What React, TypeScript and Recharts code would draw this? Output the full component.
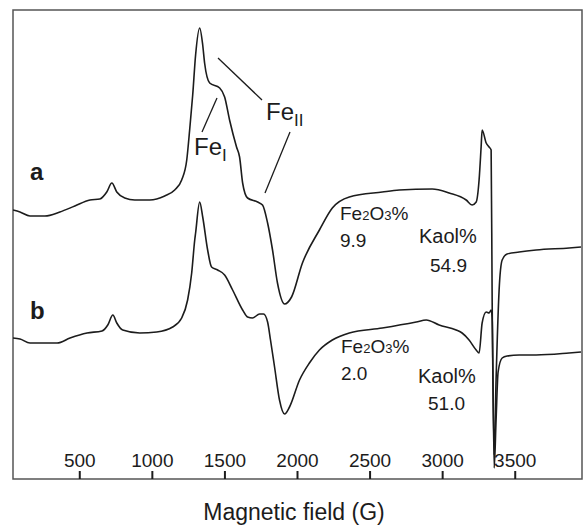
import React from "react";
import { LineChart, Line, XAxis, YAxis, ReferenceArea } from "recharts";

// Magnetic field (G) and signal (arbitrary units)
const fieldA = [
  40, 88, 157, 260, 363, 466, 570, 638, 686, 721, 755, 810, 879, 982, 1085, 1154, 1202, 1237, 1257, 1278,
  1298, 1326, 1347, 1360, 1395, 1464, 1498, 1532, 1580, 1601, 1622, 1656, 1725, 1759, 1794, 1828, 1862,
  1911, 1959, 2034, 2151, 2240, 2357, 2584, 2701, 2928, 3045, 3162, 3203, 3231, 3251, 3265, 3272, 3300,
  3320, 3334, 3341, 3355, 3368, 3389, 3410, 3444, 3527, 3644, 3871, 3953,
];
const signalA = [
  269, 267, 263, 263, 267, 273, 279, 280, 287, 296, 287, 281, 279, 279, 283, 289, 299, 319, 349, 384,
  424, 451, 434, 416, 396, 391, 382, 359, 332, 322, 296, 281, 277, 274, 256, 229, 196,
  175, 182, 216, 249, 271, 282, 287, 289, 290, 286, 279, 274, 277, 299, 332, 349, 336,
  332, 329, 179, 24, 99, 189, 219, 225, 227, 229, 231, 232,
];

const fieldB = [
  40, 88, 157, 344, 433, 550, 653, 693, 728, 755, 796, 913, 1030, 1140, 1202, 1243, 1271, 1292, 1298,
  1326, 1347, 1381, 1408, 1450, 1498, 1553, 1622, 1656, 1690, 1739, 1766, 1794, 1814, 1842, 1876, 1911,
  1945, 2014, 2082, 2151, 2240, 2357, 2584, 2818, 2887, 2976, 3093, 3134, 3182, 3231, 3251, 3272, 3300,
  3320, 3334, 3341, 3355, 3368, 3382, 3410, 3444, 3527, 3644, 3871, 3953,
];
const signalB = [
  141, 140, 136, 136, 141, 146, 148, 154, 164, 156, 149, 146, 147, 152, 161, 179, 206, 239, 246,
  277, 262, 229, 212, 209, 204, 189, 169, 162, 161, 165, 165, 157, 139, 112, 79, 65,
  72, 99, 116, 129, 139, 146, 151, 157, 159, 154, 149, 146, 139, 129, 126, 156, 167,
  166, 169, 161, 11, 59, 107, 121, 123, 124, 124, 126, 127,
];

const fieldTicks = [500, 1000, 1500, 2000, 2500, 3000, 3500];

const dataA = fieldA.map((g, i) => ({ field: g, signal: signalA[i] }));
const dataB = fieldB.map((g, i) => ({ field: g, signal: signalB[i] }));

const FONT = '"Liberation Sans", Arial, Helvetica, sans-serif';
const INK = "#1c1c1c";

// ticks sit inside the frame: mark pointing up, label above it
const FieldTick = (props: any) => {
  const { x, payload } = props;
  const base = 479;
  return (
    <g>
      <line x1={x} x2={x} y1={base} y2={base - 8} stroke={INK} strokeWidth={2} />
      <text x={x} y={base - 12} textAnchor="middle" fontSize={19} fontFamily={FONT} fill={INK}>
        {payload.value}
      </text>
    </g>
  );
};

const Oxide = ({ x, y }: { x: number; y: number }) => (
  <text x={x} y={y} fontSize={19} fontFamily={FONT} fill={INK}>
    Fe<tspan fontSize={13}>2</tspan>O<tspan fontSize={13}>3</tspan>%
  </text>
);

const App: React.FC = () => {
  return (
    <div style={{ position: "fixed", left: 0, top: 0, width: 586, height: 527, background: "#fff" }}>
      <LineChart width={586} height={527} margin={{ top: 10, right: 4, bottom: 28, left: 13 }}>
        <XAxis
          dataKey="field"
          type="number"
          domain={[40, 3960]}
          allowDataOverflow
          ticks={fieldTicks}
          interval={0}
          height={20}
          axisLine={false}
          tickLine={false}
          tick={<FieldTick />}
        />
        <YAxis type="number" domain={[0, 469]} hide allowDataOverflow />
        <ReferenceArea x1={40} x2={3960} y1={0} y2={469} fill="none" stroke="#555" strokeWidth={1.5} />
        <Line
          data={dataA}
          dataKey="signal"
          type="monotone"
          stroke={INK}
          strokeWidth={1.6}
          dot={false}
          isAnimationActive={false}
        />
        <Line
          data={dataB}
          dataKey="signal"
          type="monotone"
          stroke={INK}
          strokeWidth={1.6}
          dot={false}
          isAnimationActive={false}
        />
      </LineChart>
      <svg width={586} height={527} style={{ position: "absolute", left: 0, top: 0, pointerEvents: "none" }}>
        <text x={30} y={180} fontSize={24} fontWeight="bold" fontFamily={FONT} fill={INK}>a</text>
        <text x={30} y={319} fontSize={24} fontWeight="bold" fontFamily={FONT} fill={INK}>b</text>

        <line x1={218} y1={58} x2={262} y2={100} stroke={INK} strokeWidth={1.3} />
        <line x1={290} y1={132} x2={265} y2={193} stroke={INK} strokeWidth={1.3} />
        <line x1={217} y1={98} x2={202} y2={132} stroke={INK} strokeWidth={1.3} />

        <text x={266} y={120} fontSize={24} fontFamily={FONT} fill={INK}>
          Fe<tspan fontSize={17} dy={6}>II</tspan>
        </text>
        <text x={194} y={155} fontSize={24} fontFamily={FONT} fill={INK}>
          Fe<tspan fontSize={17} dy={6}>I</tspan>
        </text>

        <Oxide x={340} y={220} />
        <text x={340} y={247} fontSize={19} fontFamily={FONT} fill={INK}>9.9</text>
        <text x={419} y={243} fontSize={20} fontFamily={FONT} fill={INK}>Kaol%</text>
        <text x={430} y={272} fontSize={19} fontFamily={FONT} fill={INK}>54.9</text>

        <Oxide x={341} y={353} />
        <text x={341} y={380} fontSize={19} fontFamily={FONT} fill={INK}>2.0</text>
        <text x={418} y={383} fontSize={20} fontFamily={FONT} fill={INK}>Kaol%</text>
        <text x={428} y={410} fontSize={19} fontFamily={FONT} fill={INK}>51.0</text>

        <text x={294} y={520} textAnchor="middle" fontSize={23} fontFamily={FONT} fill={INK}>
          Magnetic field (G)
        </text>
      </svg>
    </div>
  );
};

export default App;
